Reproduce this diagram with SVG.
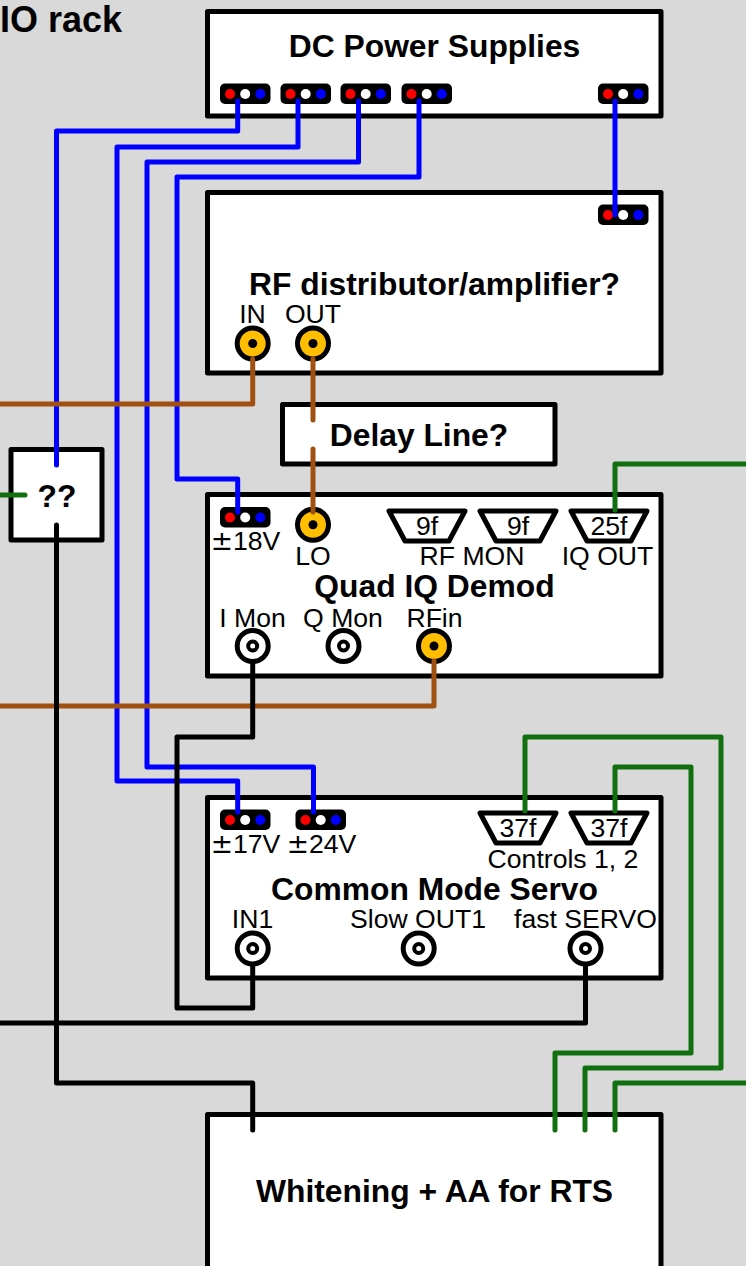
<svg xmlns="http://www.w3.org/2000/svg" width="746" height="1266" viewBox="0 0 746 1266">
<style>
text{font-family:"Liberation Sans",Arial,sans-serif;fill:#000;text-anchor:middle}
.t{font-size:31.8px;font-weight:bold}
.l{font-size:26.6px}
.pm{font-family:"DejaVu Sans",sans-serif}
.box{fill:#fff;stroke:#000;stroke-width:5;stroke-linejoin:round}
.w{fill:none;stroke-width:5;stroke-linecap:round;stroke-linejoin:round}
.bl{stroke:#0000ff}.br{stroke:#a05010}.gr{stroke:#107010}.k{stroke:#000}
.trap{fill:#fff;stroke:#000;stroke-width:5;stroke-linejoin:round}
</style>
<defs>
<g id="hdr"><rect x="0" y="0" width="50.500" height="20.5" rx="5" fill="#000"/><circle cx="10" cy="10.5" r="5" fill="#f00"/><circle cx="25.2" cy="10.5" r="5" fill="#fff"/><circle cx="40.3" cy="10.5" r="5" fill="#00f"/></g>
<g id="bnc"><circle r="15.5" fill="#fff" stroke="#000" stroke-width="5"/><circle r="4.500" fill="#fff" stroke="#000" stroke-width="4"/></g>
<g id="sma"><circle r="15.5" fill="#ffbf00" stroke="#000" stroke-width="5"/><circle r="4.500" fill="#000"/></g>
<path id="trap" d="M-38,0H38L22,30H-22Z" class="trap"/>
</defs>
<rect width="746" height="1266" fill="#d9d9d9"/>
<text id="io-rack" x="122" y="32" class="t" style="font-size:36px;text-anchor:end">IO rack</text>
<g id="dc-power"><rect class="box" x="207.500" y="11.500" width="453.500" height="104.500"/><text class="t" x="434.500" y="57">DC Power Supplies</text>
<use href="#hdr" x="220" y="83.500"/><use href="#hdr" x="280.500" y="83.500"/><use href="#hdr" x="340.500" y="83.500"/><use href="#hdr" x="401.500" y="83.500"/><use href="#hdr" x="598" y="83.500"/></g>
<g id="rf-dist"><rect class="box" x="207.500" y="192.500" width="453.500" height="180.500"/><use href="#hdr" x="598" y="204.500"/><text class="t" x="434.500" y="295">RF distributor/amplifier?</text><text class="l" x="252.500" y="323">IN</text><text class="l" x="313" y="323">OUT</text><use href="#sma" x="252.700" y="343.500"/><use href="#sma" x="313" y="343.500"/></g>
<g id="delay"><rect class="box" x="282.500" y="404.500" width="272.500" height="59.500"/><text class="t" x="419" y="446">Delay Line?</text></g>
<g id="unknown"><rect class="box" x="11" y="449.500" width="91" height="90.500"/><text class="t" x="57" y="507">??</text></g>
<g id="quad"><rect class="box" x="207.500" y="494.500" width="453.500" height="181.500"/><use href="#hdr" x="220" y="507"/><text class="l" x="245.500" y="550"><tspan class="pm">±</tspan>18V</text><use href="#sma" x="313" y="524.700"/><text class="l" x="313" y="565">LO</text>
<use href="#trap" x="427" y="511"/><use href="#trap" x="518" y="511"/><use href="#trap" x="609" y="511"/><text class="l" x="427" y="535">9f</text><text class="l" x="518" y="535">9f</text><text class="l" x="609" y="535">25f</text>
<text class="l" x="472" y="565">RF MON</text><text class="l" x="607.500" y="565">IQ OUT</text><text class="t" x="434.500" y="597">Quad IQ Demod</text><text class="l" x="252.500" y="627">I Mon</text><text class="l" x="343" y="627">Q Mon</text><text class="l" x="434.500" y="627">RFin</text>
<use href="#bnc" x="252.700" y="646"/><use href="#bnc" x="343.500" y="646"/><use href="#sma" x="434" y="646"/></g>
<g id="servo"><rect class="box" x="207.500" y="797.500" width="453.500" height="180.500"/><use href="#hdr" x="220" y="809.500"/><use href="#hdr" x="295.500" y="809.500"/><text class="l" x="245.500" y="853"><tspan class="pm">±</tspan>17V</text><text class="l" x="321.500" y="853"><tspan class="pm">±</tspan>24V</text>
<use href="#trap" x="518" y="813"/><use href="#trap" x="609" y="813"/><text class="l" x="518" y="837">37f</text><text class="l" x="609" y="837">37f</text><text class="l" x="563" y="868">Controls 1, 2</text><text class="t" x="434.500" y="900">Common Mode Servo</text>
<text class="l" x="252.500" y="928">IN1</text><text class="l" x="418" y="928">Slow OUT1</text><text class="l" x="585.500" y="928">fast SERVO</text><use href="#bnc" x="252.700" y="948.500"/><use href="#bnc" x="418.700" y="948.500"/><use href="#bnc" x="585.500" y="948.500"/></g>
<g id="whitening"><rect class="box" x="207.500" y="1114.500" width="453.500" height="160"/><text class="t" x="434.500" y="1202">Whitening + AA for RTS</text></g>
<g id="connectors">
<path class="w bl" d="M237.700,101V131H56.500V465"/>
<path class="w bl" d="M298,101V147H117V781H237.700V812"/>
<path class="w bl" d="M358.500,101V162H147V767H313.500V812"/>
<path class="w bl" d="M419,101V177H177V479H237.700V512"/>
<path class="w bl" d="M615,101V215"/>
<path class="w br" d="M252.700,359V404H0"/>
<path class="w br" d="M313,359V420M313,449V512"/>
<path class="w br" d="M434,661V706H0"/>
<path class="w gr" d="M615,510V464H750"/>
<path class="w gr" d="M0,495H25"/>
<path class="w gr" d="M525,811V737H721V1068H585V1130"/>
<path class="w gr" d="M615,811V767H691V1053H555V1130"/>
<path class="w gr" d="M750,1083H615V1130"/>
<path class="w k" d="M252.700,662V737H177V1008H252.700V965"/>
<path class="w k" d="M0,1023H585.500V965"/>
<path class="w k" d="M56.500,525V1083H252.700V1130"/>
</g>
</svg>
